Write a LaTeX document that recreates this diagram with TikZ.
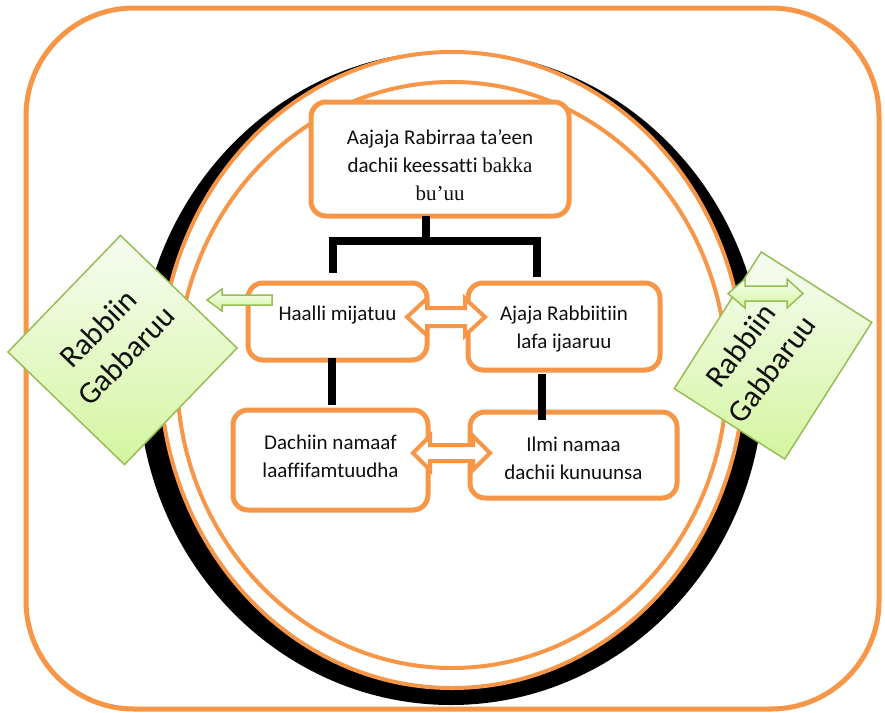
\documentclass[tikz,border=0pt]{standalone}
\usepackage{fontspec}
\setmainfont{Carlito}[Ligatures=NoCommon]
\newfontfamily\tnr{Liberation Serif}
\usetikzlibrary{calc}
\definecolor{org}{RGB}{247,150,70}
\definecolor{grnB}{RGB}{150,190,85}
\definecolor{grnL}{RGB}{247,252,242}
\definecolor{grnD}{RGB}{212,245,160}
\definecolor{txt}{RGB}{15,15,15}
\begin{document}
\begin{tikzpicture}[x=1pt,y=-1pt,
  box/.style={draw=org, line width=5pt, fill=white, rounded corners=15pt, inner sep=0pt},
  btext/.style={align=center, font=\fontsize{21}{28}\selectfont, text=txt},
  blk/.style={line width=8pt, black},
  dbl/.style={draw=org, line width=4pt, fill=white, line join=miter},
  gshape/.style={draw=grnB, line width=1.5pt, top color=grnL, bottom color=grnD},
  garrow/.style={draw=grnB, line width=1.5pt, top color=grnL, bottom color=grnD, line join=miter},
  gtext/.style={font=\fontsize{31}{39}\selectfont, align=center, text=txt},
]
\useasboundingbox (0,0) rectangle (885,712);
\fill[white] (0,0) rectangle (885,712);
% outer frame
\draw[org, line width=5pt, rounded corners=108pt] (26,8) rectangle (879,709);
% ellipses
\fill[black] (451,378) ellipse [x radius=313pt, y radius=327pt];
\draw[org, line width=4pt, fill=white] (452,370) ellipse [x radius=292pt, y radius=318pt];
\draw[org, line width=4pt] (452,375) ellipse [x radius=275pt, y radius=293pt];
% boxes
\node[box, minimum width=258pt, minimum height=114pt,
  label={[btext, yshift=-6pt, name=toptext]center:{Aajaja Rabirraa ta’een\\dachii keessatti {\tnr bakka}\\{\tnr bu’uu}}}] (top) at (440,159) {};
\node[box, minimum width=179pt, minimum height=77pt,
  label={[btext, yshift=6.5pt, name=hmtext]center:{Haalli mijatuu}}] (hm) at (337.5,321.5) {};
\node[box, minimum width=192pt, minimum height=87pt,
  label={[btext, yshift=-2.5pt, name=ajtext]center:{Ajaja Rabbiitiin\\lafa ijaaruu}}] (aj) at (564,326.5) {};
\node[box, minimum width=195pt, minimum height=100pt,
  label={[btext, yshift=4pt, name=dntext]center:{Dachiin namaaf\\laaffifamtuudha}}] (dn) at (330.5,460) {};
\node[box, minimum width=207pt, minimum height=86pt,
  label={[btext, yshift=-3pt, name=iltext]center:{Ilmi namaa\\dachii kunuunsa}}] (il) at (573.5,455) {};
% black connectors
\coordinate (j) at (426,241);
\coordinate (bl) at (333,273);
\coordinate (br) at (537,277);
\draw[blk] ($(top.south)+(-14,-3)$) -- (j);
\draw[blk, line join=miter] (bl) -- (bl |- j) -- (br |- j) -- (br);
\draw[blk] ($(hm.south)+(-5.5,-5)$) -- ($(dn.north)+(1.5,-3)$);
\draw[blk] ($(aj.south)+(-22.5,1)$) -- ($(il.north)+(-32,10)$);
% orange double arrows
\draw[dbl] (407,317) -- (427,298.5) -- (427,308) -- (465,308) -- (465,298.5) -- (485,317)
  -- (465,335.5) -- (465,326) -- (427,326) -- (427,335.5) -- cycle;
\draw[dbl] (413,453) -- (430,436) -- (430,445) -- (473,445) -- (473,436) -- (490,453)
  -- (473,470) -- (473,461) -- (430,461) -- (430,470) -- cycle;
% green shapes
\node[gshape, minimum width=162pt, minimum height=162pt, rotate=46, inner sep=0pt] (gl) at (122.5,350) {};
\node[gtext, rotate=46] (glt) at (112,342) {Rabbiin\\Gabbaruu};
\node[gshape, minimum width=162pt, minimum height=131pt, rotate=57.5, inner sep=0pt] (gr) at (773,355.5) {};
\node[gtext, rotate=53] (grt) at (756,357) {Rabbiin\\Gabbaruu};
% green arrows
\draw[garrow] (207,300) -- (222,289) -- (222,295) -- (272,295) -- (272,305) -- (222,305) -- (222,311) -- cycle;
\draw[garrow] (728,293.5) -- (745,279) -- (745,286) -- (787,286) -- (787,279) -- (803,293.5)
  -- (787,308) -- (787,301) -- (745,301) -- (745,308) -- cycle;
\end{tikzpicture}
\end{document}
